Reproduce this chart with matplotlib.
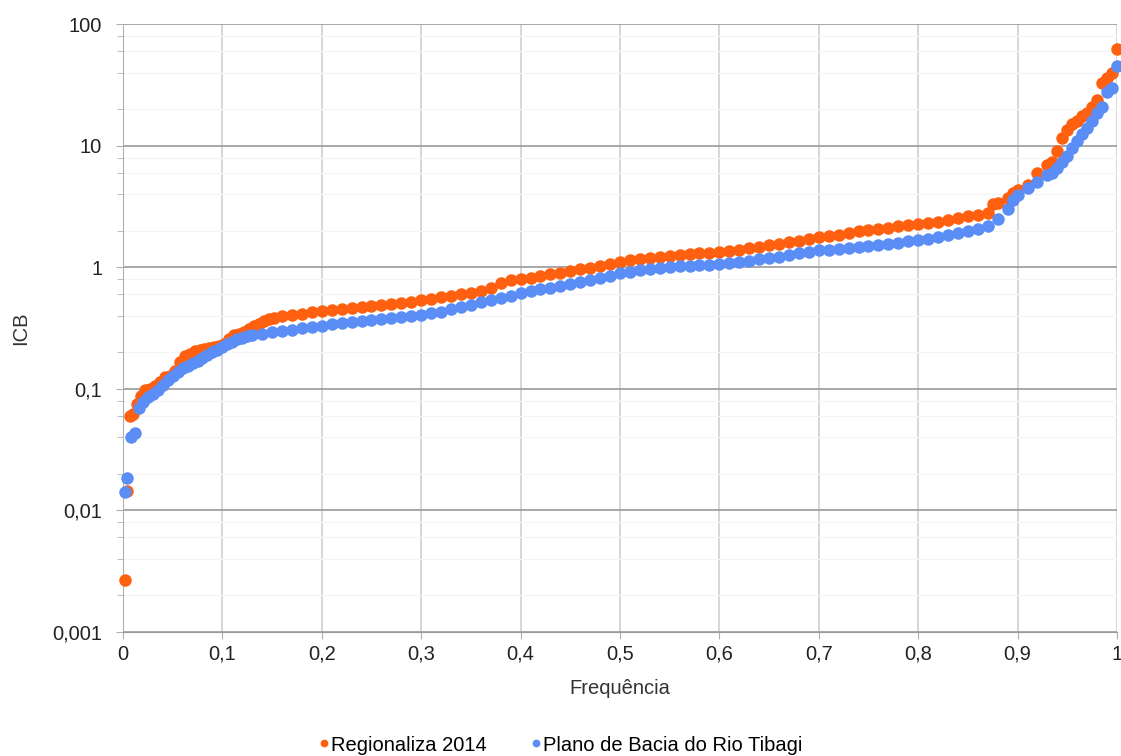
import matplotlib
matplotlib.use("Agg")
import matplotlib.pyplot as plt
from matplotlib.ticker import LogLocator, FixedLocator, FuncFormatter

plt.rcParams['font.family'] = ['Liberation Sans', 'DejaVu Sans']

# Regionaliza 2014 (orange)
freq_reg = [0.002, 0.004, 0.007, 0.010, 0.014, 0.018, 0.022, 0.027, 0.032, 0.037,
            0.042, 0.047, 0.052, 0.057, 0.062, 0.067, 0.072, 0.077, 0.082, 0.087,
            0.092, 0.097, 0.102, 0.107, 0.112, 0.117, 0.122, 0.127, 0.132, 0.137,
            0.142, 0.147, 0.152, 0.16, 0.17, 0.18, 0.19, 0.20, 0.21, 0.22,
            0.23, 0.24, 0.25, 0.26, 0.27, 0.28, 0.29, 0.30, 0.31, 0.32,
            0.33, 0.34, 0.35, 0.36, 0.37, 0.38, 0.39, 0.40, 0.41, 0.42,
            0.43, 0.44, 0.45, 0.46, 0.47, 0.48, 0.49, 0.50, 0.51, 0.52,
            0.53, 0.54, 0.55, 0.56, 0.57, 0.58, 0.59, 0.60, 0.61, 0.62,
            0.63, 0.64, 0.65, 0.66, 0.67, 0.68, 0.69, 0.70, 0.71, 0.72,
            0.73, 0.74, 0.75, 0.76, 0.77, 0.78, 0.79, 0.80, 0.81, 0.82,
            0.83, 0.84, 0.85, 0.86, 0.87, 0.875, 0.88, 0.89, 0.895, 0.90,
            0.91, 0.92, 0.93, 0.935, 0.94, 0.945, 0.95, 0.955, 0.96, 0.965,
            0.97, 0.975, 0.98, 0.985, 0.99, 0.995, 1.0]
icb_reg = [0.0027, 0.0145, 0.060, 0.062, 0.075, 0.088, 0.097, 0.100, 0.105, 0.115,
           0.125, 0.128, 0.140, 0.165, 0.185, 0.195, 0.205, 0.210, 0.213, 0.216,
           0.220, 0.225, 0.235, 0.255, 0.275, 0.285, 0.295, 0.310, 0.330, 0.345,
           0.360, 0.375, 0.385, 0.395, 0.405, 0.415, 0.425, 0.435, 0.445, 0.455,
           0.462, 0.470, 0.478, 0.488, 0.498, 0.510, 0.522, 0.535, 0.550, 0.565,
           0.580, 0.600, 0.620, 0.640, 0.680, 0.750, 0.780, 0.800, 0.820, 0.850,
           0.880, 0.905, 0.930, 0.960, 0.990, 1.02, 1.06, 1.10, 1.14, 1.17,
           1.20, 1.22, 1.24, 1.26, 1.28, 1.30, 1.32, 1.34, 1.37, 1.40,
           1.44, 1.48, 1.52, 1.57, 1.62, 1.66, 1.71, 1.76, 1.80, 1.84,
           1.92, 1.98, 2.03, 2.08, 2.12, 2.17, 2.22, 2.27, 2.32, 2.38,
           2.45, 2.55, 2.62, 2.70, 2.78, 3.3, 3.4, 3.7, 4.05, 4.3,
           4.8, 6.0, 7.0, 7.3, 9.0, 11.5, 13.5, 15.0, 16.0, 17.5,
           18.5, 21.0, 24.0, 33.0, 36.0, 40.0, 63.0]

# Plano de Bacia do Rio Tibagi (blue)
freq_tib = [0.002, 0.004, 0.008, 0.012, 0.016, 0.020, 0.025, 0.03, 0.035, 0.04,
            0.045, 0.05, 0.055, 0.06, 0.065, 0.07, 0.075, 0.08, 0.085, 0.09,
            0.095, 0.10, 0.105, 0.11, 0.115, 0.12, 0.125, 0.13, 0.14, 0.15,
            0.16, 0.17, 0.18, 0.19, 0.20, 0.21, 0.22, 0.23, 0.24, 0.25,
            0.26, 0.27, 0.28, 0.29, 0.30, 0.31, 0.32, 0.33, 0.34, 0.35,
            0.36, 0.37, 0.38, 0.39, 0.40, 0.41, 0.42, 0.43, 0.44, 0.45,
            0.46, 0.47, 0.48, 0.49, 0.50, 0.51, 0.52, 0.53, 0.54, 0.55,
            0.56, 0.57, 0.58, 0.59, 0.60, 0.61, 0.62, 0.63, 0.64, 0.65,
            0.66, 0.67, 0.68, 0.69, 0.70, 0.71, 0.72, 0.73, 0.74, 0.75,
            0.76, 0.77, 0.78, 0.79, 0.80, 0.81, 0.82, 0.83, 0.84, 0.85,
            0.86, 0.87, 0.88, 0.89, 0.895, 0.90, 0.91, 0.92, 0.93, 0.935,
            0.94, 0.945, 0.95, 0.955, 0.96, 0.965, 0.97, 0.975, 0.98, 0.985,
            0.99, 0.995, 1.0]
icb_tib = [0.0142, 0.0185, 0.040, 0.043, 0.070, 0.078, 0.085, 0.090, 0.098, 0.108,
           0.118, 0.128, 0.138, 0.148, 0.155, 0.162, 0.168, 0.180, 0.190, 0.200,
           0.210, 0.222, 0.235, 0.245, 0.255, 0.262, 0.270, 0.275, 0.285, 0.292,
           0.298, 0.305, 0.315, 0.325, 0.332, 0.340, 0.348, 0.355, 0.362, 0.368,
           0.375, 0.382, 0.390, 0.398, 0.405, 0.418, 0.432, 0.450, 0.470, 0.490,
           0.515, 0.540, 0.560, 0.585, 0.610, 0.640, 0.660, 0.680, 0.705, 0.730,
           0.760, 0.790, 0.820, 0.855, 0.890, 0.920, 0.950, 0.975, 0.995, 1.01,
           1.02, 1.03, 1.04, 1.05, 1.06, 1.08, 1.10, 1.13, 1.16, 1.19,
           1.22, 1.26, 1.30, 1.34, 1.38, 1.40, 1.42, 1.44, 1.46, 1.49,
           1.52, 1.56, 1.60, 1.64, 1.68, 1.72, 1.77, 1.83, 1.92, 2.00,
           2.08, 2.20, 2.50, 3.00, 3.6, 3.9, 4.5, 5.0, 5.7, 6.0,
           6.6, 7.4, 8.3, 9.5, 11.0, 12.5, 14.0, 16.0, 18.5, 21.0,
           27.5, 30.0, 45.0]

x_ticks = [0, 0.1, 0.2, 0.3, 0.4, 0.5, 0.6, 0.7, 0.8, 0.9, 1.0]
y_ticks = [0.001, 0.01, 0.1, 1, 10, 100]

orange = '#FF6010'
blue = '#5B8DF6'

fig = plt.figure(figsize=(11.21, 7.56), dpi=100)
ax = fig.add_axes([0.1097, 0.164, 0.8867, 0.804])

ax.plot(freq_reg, icb_reg, 'o', color=orange, ms=9.0, mec='none',
        label='Regionaliza 2014', zorder=3, clip_on=False)
ax.plot(freq_tib, icb_tib, 'o', color=blue, ms=9.0, mec='none',
        label='Plano de Bacia do Rio Tibagi', zorder=4, clip_on=False)

ax.set_yscale('log')
ax.set_ylim(0.001, 100)
ax.set_xlim(0, 1)

ax.xaxis.set_major_locator(FixedLocator(x_ticks))
ax.yaxis.set_major_locator(FixedLocator(y_ticks))
ax.yaxis.set_minor_locator(LogLocator(base=10, subs=[2, 4, 6, 8]))
ax.xaxis.set_major_formatter(FuncFormatter(lambda v, p: ('%g' % v).replace('.', ',')))
ax.yaxis.set_major_formatter(FuncFormatter(lambda v, p: ('%g' % v).replace('.', ',')))
ax.yaxis.set_minor_formatter(FuncFormatter(lambda v, p: ''))

ax.grid(True, which='major', axis='y', color='#9a9a9a', lw=1.2)
ax.grid(True, which='major', axis='x', color='#d0d0d0', lw=1.2)
ax.grid(True, which='minor', axis='y', color='#f5f5f5', lw=1.0)
ax.set_axisbelow(True)

for s in ['top', 'right']:
    ax.spines[s].set_visible(False)
ax.spines['left'].set_color('#b0b0b0')
ax.spines['bottom'].set_color('#9a9a9a')

ax.tick_params(axis='both', which='major', labelsize=14.5, colors='#b0b0b0',
               labelcolor='#222222', length=5)
ax.tick_params(axis='y', which='major', pad=10)
ax.tick_params(axis='x', which='major', pad=4)
ax.tick_params(axis='y', which='minor', length=4, colors='#b0b0b0')

ax.set_xlabel('Frequência', fontsize=14.5, color='#333333', labelpad=11)
ax.set_ylabel('ICB', fontsize=14.5, color='#333333', labelpad=16)

fig.legend(loc='lower center', bbox_to_anchor=(0.5, -0.022), ncol=2, frameon=False,
           fontsize=14.5, markerscale=0.62, handlelength=0.5, handletextpad=0.1,
           columnspacing=2.2)

fig.savefig('out.png', dpi=100)
